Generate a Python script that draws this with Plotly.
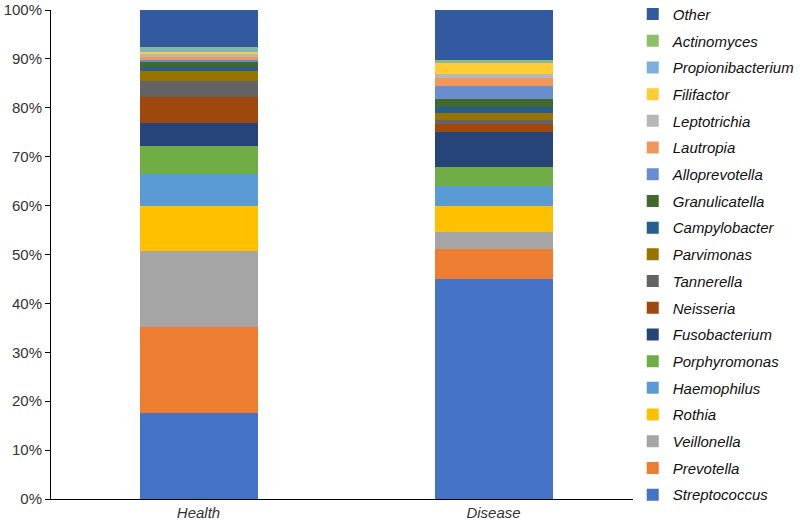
import plotly.graph_objects as go

groups = ["Health", "Disease"]
genera = ["Streptococcus", "Prevotella", "Veillonella", "Rothia", "Haemophilus",
          "Porphyromonas", "Fusobacterium", "Neisseria", "Tannerella", "Parvimonas",
          "Campylobacter", "Granulicatella", "Alloprevotella", "Lautropia",
          "Leptotrichia", "Filifactor", "Propionibacterium", "Actinomyces", "Other"]
health = [17.5, 17.7, 15.5, 9.2, 6.6, 5.7, 4.6, 5.5, 3.2, 2.0,
          0.8, 1.1, 0.4, 0.5, 0.7, 0.5, 0.6, 0.4, 7.5]
disease = [45.0, 6.1, 3.6, 5.2, 4.1, 3.8, 7.2, 1.7, 0.8, 1.4,
           1.3, 1.6, 2.7, 1.6, 0.9, 2.3, 0.2, 0.2, 10.3]
colors = ["#4472C4", "#ED7D31", "#A5A5A5", "#FFC000", "#5B9BD5",
          "#70AD47", "#264478", "#9E480E", "#636363", "#997300",
          "#255E91", "#43682B", "#698ED0", "#F1975A", "#B7B7B7",
          "#FFCD33", "#7CAFDD", "#8CC168", "#335AA1"]
ytick_vals = [0, 10, 20, 30, 40, 50, 60, 70, 80, 90, 100]

fig = go.Figure()
n = len(genera)
for i, g in enumerate(genera):
    fig.add_trace(go.Bar(
        x=groups, y=[health[i], disease[i]], name="<i>" + g + "</i>",
        marker=dict(color=colors[i], line=dict(width=0)),
        legendgroup=g, legendrank=n - i,
    ))

fig.update_layout(
    barmode="stack", bargap=0.6,
    width=800, height=521,
    margin=dict(l=51, r=159, t=10, b=22, autoexpand=False),
    plot_bgcolor="white", paper_bgcolor="white",
    font=dict(family="Liberation Sans, Arial, sans-serif", size=15, color="#333333"),
    legend=dict(traceorder="grouped", tracegroupgap=4.2,
                x=0.986, xanchor="left", y=1.025, yanchor="top",
                font=dict(size=15, color="#111111"), itemwidth=30, maxheight=1.0),
    xaxis=dict(showline=True, linecolor="black", linewidth=1, ticks="",
               automargin=False,
               tickvals=groups, ticktext=["<i>" + g + "</i>" for g in groups]),
    yaxis=dict(range=[0, 100], tickvals=ytick_vals, automargin=False,
               ticktext=[f"{v}%" for v in ytick_vals],
               showline=True, linecolor="black", linewidth=1,
               ticks="outside", ticklen=5, tickcolor="black",
               showgrid=False, zeroline=False),
)
fig.write_html("out.html", config={"displayModeBar": False},
               post_script="document.body.style.margin='0';")
